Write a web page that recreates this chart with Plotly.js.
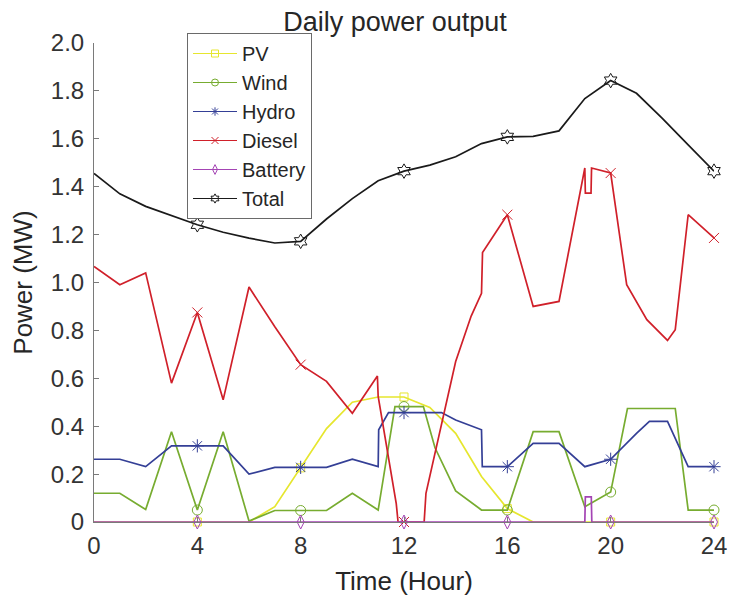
<!DOCTYPE html>
<html>
<head>
<meta charset="utf-8">
<script src="https://cdn.plot.ly/plotly-3.0.1.min.js"></script>
<style>
  html, body { margin: 0; padding: 0; background: #fff; }
  #chart { width: 729px; height: 605px; }
</style>
</head>
<body>
<div id="chart"></div>
<script>
// Hourly time axis
const hours = [0,1,2,3,4,5,6,7,8,9,10,11,12,13,14,15,16,17,18,19,20,21,22,23,24];

// PV output (MW), hourly
const pvPower = [0,0,0,0,0,0,0,0.064,0.226,0.39,0.50,0.522,0.522,0.478,0.37,0.19,0.056,0,0,0,0,0,0,0,0];

// Wind output (MW)
const windHours = [0,1,2,3,4,5,6,7,8,9,10,11,11.65,12,12.75,13.2,14,15,16,17,18,19,20,20.65,22.5,23,24];
const windPower = [0.12,0.12,0.052,0.377,0.05,0.377,0.004,0.048,0.048,0.048,0.12,0.05,0.482,0.482,0.482,0.31,0.13,0.05,0.05,0.377,0.377,0.064,0.125,0.474,0.474,0.05,0.05];

// Hydro output (MW)
const hydroHours = [0,1,2,3,4,5,6,7,8,9,10,11,11.02,11.4,12,13.45,14,15,15.03,16,17,18,19,20,21,21.5,22.2,23,24];
const hydroPower = [0.262,0.262,0.231,0.318,0.318,0.318,0.2,0.228,0.228,0.228,0.262,0.231,0.385,0.457,0.457,0.457,0.426,0.385,0.231,0.231,0.328,0.328,0.231,0.262,0.37,0.42,0.42,0.231,0.231];

// Diesel output (MW)
const dieselHours = [0,1,2,3,4,5,6,7,8,9,10,10.97,11,11.7,11.77,12,12.78,12.85,13.3,14,14.6,15,15.04,16,17,18,19,19.02,19.24,19.26,20,20.62,21.4,22.2,22.5,23,24];
const dieselPower = [1.067,0.991,1.04,0.58,0.875,0.51,0.981,0.815,0.657,0.587,0.454,0.61,0.524,0.077,0,0,0,0.12,0.34,0.67,0.86,0.955,1.125,1.283,0.9,0.921,1.478,1.373,1.373,1.478,1.457,0.991,0.845,0.758,0.803,1.283,1.186];

// Battery output (MW)
const batteryHours = [0,4,8,12,16,19,19.02,19.25,19.27,20,24];
const batteryPower = [0,0,0,0,0,0,0.105,0.105,0,0,0];

// Total output (MW), hourly
const totalPower = [1.455,1.37,1.318,1.278,1.241,1.21,1.185,1.165,1.172,1.265,1.35,1.425,1.465,1.49,1.525,1.58,1.608,1.61,1.633,1.768,1.843,1.79,1.685,1.575,1.465];

// Axis ticks
const xTicks = [0,4,8,12,16,20,24];
const yTicks = [0,0.2,0.4,0.6,0.8,1.0,1.2,1.4,1.6,1.8,2.0];
const yTickText = ['0','0.2','0.4','0.6','0.8','1.0','1.2','1.4','1.6','1.8','2.0'];

const series = [
  {name:'PV',      x:hours,        y:pvPower,      color:'#e6e62e', symbol:'square-open',       size:8},
  {name:'Wind',    x:windHours,    y:windPower,    color:'#77ac30', symbol:'circle-open',       size:10},
  {name:'Hydro',   x:hydroHours,   y:hydroPower,   color:'#343f96', symbol:'asterisk-open',     size:11},
  {name:'Diesel',  x:dieselHours,  y:dieselPower,  color:'#d0202a', symbol:'x-thin-open',       size:10},
  {name:'Battery', x:batteryHours, y:batteryPower, color:'#a444b4', symbol:'diamond-tall-open', size:10},
  {name:'Total',   x:hours,        y:totalPower,   color:'#1a1a1a', symbol:'hexagram-open',     size:11}
];

const traces = [];
series.forEach(s => {
  // full line
  traces.push({
    type:'scatter', mode:'lines', x:s.x, y:s.y, showlegend:false,
    line:{color:s.color, width:1.7}, hoverinfo:'skip'
  });
  // markers every four hours
  const mx = [], my = [];
  s.x.forEach((v, i) => { if (v > 0 && v % 4 === 0) { mx.push(v); my.push(s.y[i]); } });
  traces.push({
    type:'scatter', mode:'markers', x:mx, y:my, showlegend:false, cliponaxis:false,
    marker:{symbol:s.symbol, size:s.size, color:s.color, line:{width:1}}, hoverinfo:'skip'
  });
});
// legend entries
series.forEach(s => {
  traces.push({
    type:'scatter', mode:'lines+markers', x:[null], y:[null], name:s.name,
    line:{color:s.color, width:1},
    marker:{symbol:s.symbol, size:7, color:s.color, line:{width:1}}
  });
});

const axisGray = '#7a7a7a';
const layout = {
  width:729, height:605,
  margin:{l:94, r:15, t:43, b:83, pad:0},
  paper_bgcolor:'#ffffff', plot_bgcolor:'#ffffff',
  font:{family:'"Liberation Sans", Arial, Helvetica, sans-serif', color:'#262626', size:24},
  title:{text:'Daily power output', font:{size:27, color:'#262626'}, x:395/729, xanchor:'center', y:1-22/605, yanchor:'middle'},
  xaxis:{
    range:[0,24], tickvals:xTicks, ticktext:xTicks.map(String),
    ticks:'inside', ticklen:5, tickcolor:axisGray, tickwidth:1,
    showline:true, linecolor:axisGray, linewidth:1,
    showgrid:false, zeroline:false,
    tickfont:{size:24, color:'#333333'},
    ticklabelstandoff:2,
    title:{text:'Time (Hour)', font:{size:26, color:'#262626'}, standoff:14}
  },
  yaxis:{
    range:[0,2], tickvals:yTicks, ticktext:yTickText,
    ticks:'inside', ticklen:5, tickcolor:axisGray, tickwidth:1,
    showline:true, linecolor:axisGray, linewidth:1,
    showgrid:false, zeroline:false,
    tickfont:{size:24, color:'#333333'},
    ticklabelstandoff:4,
    title:{text:'Power (MW)', font:{size:26, color:'#262626'}, standoff:10}
  },
  legend:{
    x:(187-94)/620, y:(522-33)/479, xanchor:'left', yanchor:'top',
    bgcolor:'#ffffff', bordercolor:'#6a6a6a', borderwidth:1,
    font:{size:20, color:'#262626'}, itemwidth:44, tracegroupgap:0
  },
  showlegend:true
};

Plotly.newPlot('chart', traces, layout, {staticPlot:true, displayModeBar:false});
</script>
</body>
</html>
